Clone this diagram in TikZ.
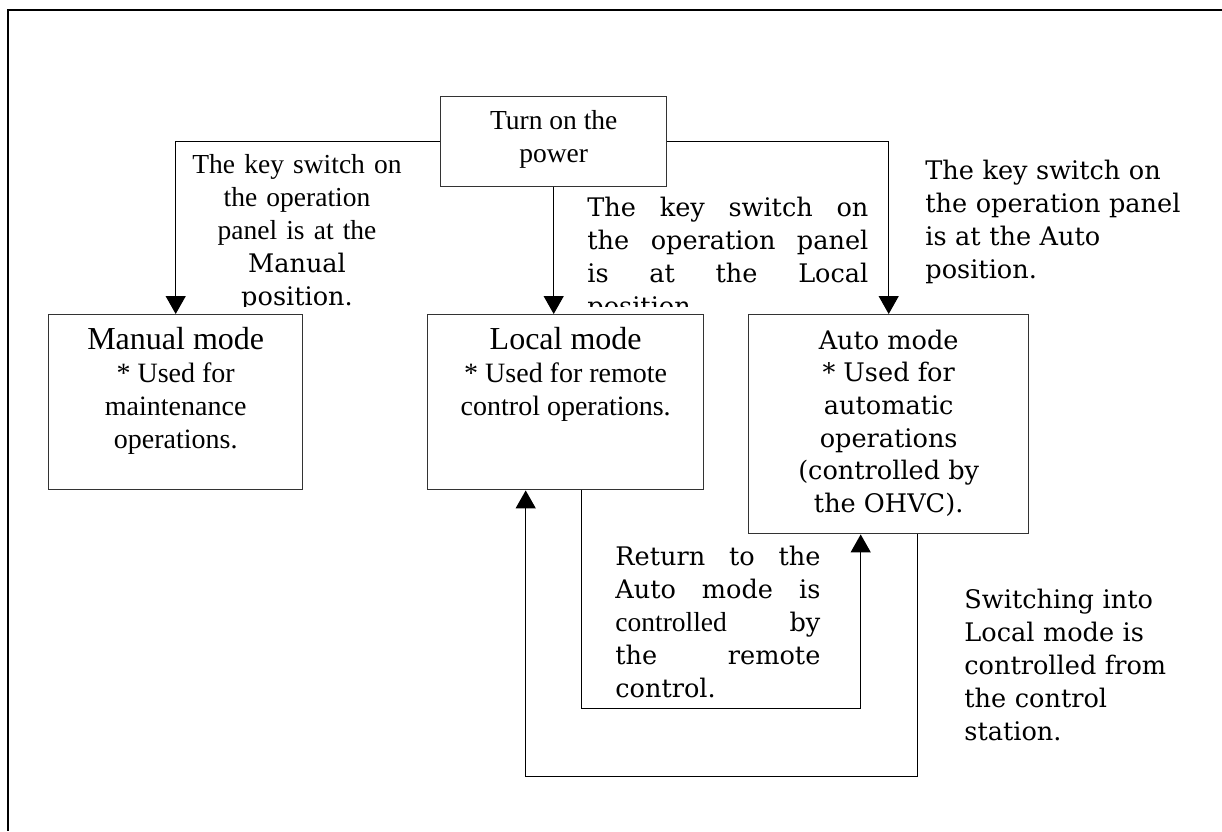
\documentclass[tikz,border=0pt]{standalone}
\usepackage{fontspec}
\setmainfont{Liberation Serif}
\newfontfamily\wideserif[Scale=0.93]{DejaVu Serif}
\usetikzlibrary{arrows.meta}

% box contents: width, height, first strut, text
\newcommand{\boxtext}[4]{\parbox[t][#2][t]{#1}{\centering\rule{0pt}{#3}#4}}

\begin{document}
\begin{tikzpicture}[x=0.5pt, y=-0.5pt,
    box/.style={draw=black!80, line width=0.7pt, inner sep=0pt, anchor=north west},
    link/.style={line width=0.65pt, -{Triangle[width=10pt,length=9pt]}},
    times/.style={font=\fontsize{13.75pt}{16.5pt}\selectfont},
    wide/.style={font=\wideserif\fontsize{13.75pt}{16.5pt}\selectfont},
    note/.style={inner sep=0pt, anchor=base west, align=left}]
    \useasboundingbox (0,0) rectangle (1222,831);

    % Page frame, cut at right and bottom
    \draw[line width=1.3pt] (1222,10) -- (8,10) -- (8,831);

    % Power box
    \node[box, times] (turn) at (440,96)
        {\boxtext{113pt}{45pt}{16.5pt}{Turn on the\\power}};

    % Mode boxes
    \node[box] (manual) at (48,314)
        {\boxtext{127pt}{87.5pt}{17.5pt}{\fontsize{16pt}{16.5pt}\selectfont Manual mode\\
        \fontsize{14pt}{16.5pt}\selectfont {*} Used for\\maintenance\\operations.}};
    \node[box] (local) at (427,314)
        {\boxtext{138pt}{87.5pt}{17.5pt}{\fontsize{16pt}{16.5pt}\selectfont Local mode\\
        \fontsize{14pt}{16.5pt}\selectfont {*} Used for remote\\control operations.}};
    \node[box] (auto) at (748,314)
        {\boxtext{140pt}{109.5pt}{17.25pt}{\wideserif\fontsize{13.75pt}{16.3pt}\selectfont Auto mode\\
        {*} Used for\\automatic\\operations\\(controlled by\\the OHVC).}};

    % Key switch texts (the lowest lines are cut off)
    \begin{scope}
        \clip (0,0) rectangle (1222,306);
        \node[times, inner sep=0pt, anchor=base, text width=120pt, align=center] (keymanual) at (297,173)
            {The key switch on\\the operation\\panel is at the\\{\wideserif Manual}\\{\wideserif position.}};
        \node[wide, note, text width=140.5pt] (keylocal) at (587,216)
            {\makebox[\linewidth]{The\hfill key\hfill switch\hfill on}\\
             \makebox[\linewidth]{the\hfill operation\hfill panel}\\
             \makebox[\linewidth]{is\hfill at\hfill the\hfill Local}\\
             position.};
    \end{scope}
    \node[wide, note, text width=140pt] (keyauto) at (925,179)
        {The key switch on\\the operation panel\\is at the Auto\\position.};

    % Texts of the mode changes
    \node[wide, note, text width=102.5pt] (backauto) at (615,565)
        {\makebox[\linewidth]{Return\hfill to\hfill the}\\
         \makebox[\linewidth]{Auto\hfill mode\hfill is}\\
         \makebox[\linewidth]{{\rmfamily controlled}\hfill by}\\
         \makebox[\linewidth]{the\hfill remote}\\
         control.};
    \node[wide, note, text width=120pt] (golocal) at (964,608)
        {Switching into\\Local mode is\\controlled from\\the control\\station.};

    % Power on: the key switch picks the mode
    \draw[link] (turn.west) -| (manual.north);
    \draw[link] (turn.south) -- (turn.south |- local.north);
    \draw[link] (turn.east) -| (auto.north);

    % Changes between Local and Auto
    \draw[link] ([xshift=8pt]local.south) -- ++(0,218) -| ([xshift=-14pt]auto.south);
    \draw[link] ([xshift=14.5pt]auto.south) -- ++(0,242) -| ([xshift=-20pt]local.south);
\end{tikzpicture}
\end{document}
